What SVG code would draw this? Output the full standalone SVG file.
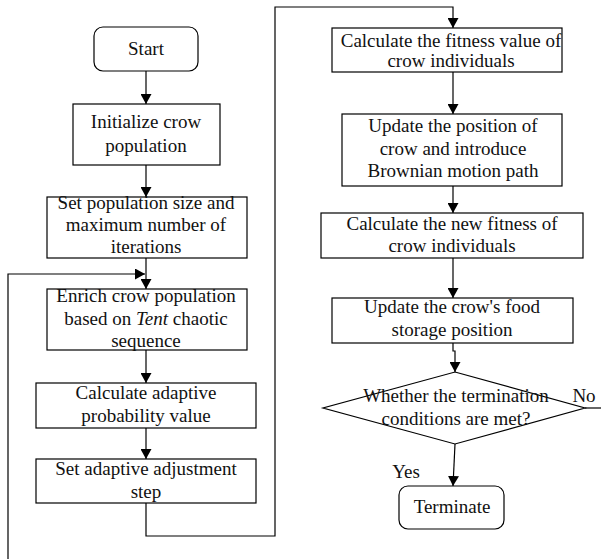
<svg xmlns="http://www.w3.org/2000/svg" width="601" height="559" viewBox="0 0 601 559">
<style>
.box{fill:#fff;stroke:#000;stroke-width:1.2}
.lbl{font-family:"Liberation Serif","Times New Roman",serif;font-size:19px;fill:#111;text-anchor:middle}
.c{fill:none;stroke:#000;stroke-width:1.2}
</style>
<defs>
<marker id="ah" markerWidth="10" markerHeight="11" refX="10" refY="5.5" orient="auto" markerUnits="userSpaceOnUse">
<path d="M0,0 L10,5.5 L0,11 Z" fill="#000"/>
</marker>
</defs>
<rect width="601" height="559" fill="#fff"/>
<g id="connectors">
<line class="c" x1="146" y1="71" x2="146" y2="104" marker-end="url(#ah)"/>
<line class="c" x1="146" y1="165" x2="146" y2="197" marker-end="url(#ah)"/>
<line class="c" x1="146" y1="258" x2="146" y2="289" marker-end="url(#ah)"/>
<polyline class="c" points="8,559 8,274 145,274" marker-end="url(#ah)"/>
<line class="c" x1="146" y1="350" x2="146" y2="383" marker-end="url(#ah)"/>
<line class="c" x1="146" y1="428" x2="146" y2="459" marker-end="url(#ah)"/>
<polyline class="c" points="146,503 146,536 275,536 275,7 453,7 453,28" marker-end="url(#ah)"/>
<line class="c" x1="453" y1="72" x2="453" y2="114" marker-end="url(#ah)"/>
<line class="c" x1="453" y1="186" x2="453" y2="213" marker-end="url(#ah)"/>
<line class="c" x1="453" y1="258" x2="453" y2="298" marker-end="url(#ah)"/>
<polyline class="c" points="453,343 453,351 455,351 455,372" marker-end="url(#ah)"/>
<line class="c" x1="585" y1="408" x2="601" y2="408"/>
<line class="c" x1="455" y1="444" x2="453" y2="486" marker-end="url(#ah)"/>
<text class="lbl" x="584" y="402">No</text>
<text class="lbl" x="406" y="478">Yes</text>
</g>
<g id="start">
<rect class="box" x="94" y="27" width="104" height="44" rx="9"/>
<text class="lbl" x="146" y="55">Start</text>
</g>
<g id="init">
<rect class="box" x="73" y="104" width="147" height="61"/>
<text class="lbl" x="146" y="128">Initialize crow</text>
<text class="lbl" x="146" y="152">population</text>
</g>
<g id="setpop">
<rect class="box" x="47" y="197" width="200" height="61"/>
<text class="lbl" x="146" y="209">Set population size and</text>
<text class="lbl" x="146" y="231">maximum number of</text>
<text class="lbl" x="146" y="253">iterations</text>
</g>
<g id="enrich">
<rect class="box" x="47" y="289" width="200" height="61"/>
<text class="lbl" x="146" y="302">Enrich crow population</text>
<text class="lbl" x="146" y="325">based on <tspan font-style="italic">Tent</tspan> chaotic</text>
<text class="lbl" x="146" y="347">sequence</text>
</g>
<g id="adaptprob">
<rect class="box" x="36" y="383" width="220" height="45"/>
<text class="lbl" x="146" y="399">Calculate adaptive</text>
<text class="lbl" x="146" y="422">probability value</text>
</g>
<g id="adaptstep">
<rect class="box" x="36" y="459" width="220" height="44"/>
<text class="lbl" x="146" y="475">Set adaptive adjustment</text>
<text class="lbl" x="146" y="498">step</text>
</g>
<g id="fitness">
<rect class="box" x="332" y="28" width="230" height="44"/>
<text class="lbl" x="451" y="47">Calculate the fitness value of</text>
<text class="lbl" x="451" y="67">crow individuals</text>
</g>
<g id="update">
<rect class="box" x="342" y="114" width="220" height="72"/>
<text class="lbl" x="453" y="132">Update the position of</text>
<text class="lbl" x="453" y="155">crow and introduce</text>
<text class="lbl" x="453" y="177">Brownian motion path</text>
</g>
<g id="newfit">
<rect class="box" x="321" y="213" width="262" height="45"/>
<text class="lbl" x="452" y="230">Calculate the new fitness of</text>
<text class="lbl" x="452" y="252">crow individuals</text>
</g>
<g id="food">
<rect class="box" x="332" y="298" width="241" height="45"/>
<text class="lbl" x="452" y="313">Update the crow's food</text>
<text class="lbl" x="452" y="336">storage position</text>
</g>
<g id="decision">
<polygon class="box" points="455,372 585,408 455,444 323,408"/>
<text class="lbl" x="456" y="402">Whether the termination</text>
<text class="lbl" x="456" y="425">conditions are met?</text>
</g>
<g id="terminate">
<rect class="box" x="399" y="486" width="105" height="43" rx="9"/>
<text class="lbl" x="452" y="513">Terminate</text>
</g>
</svg>
